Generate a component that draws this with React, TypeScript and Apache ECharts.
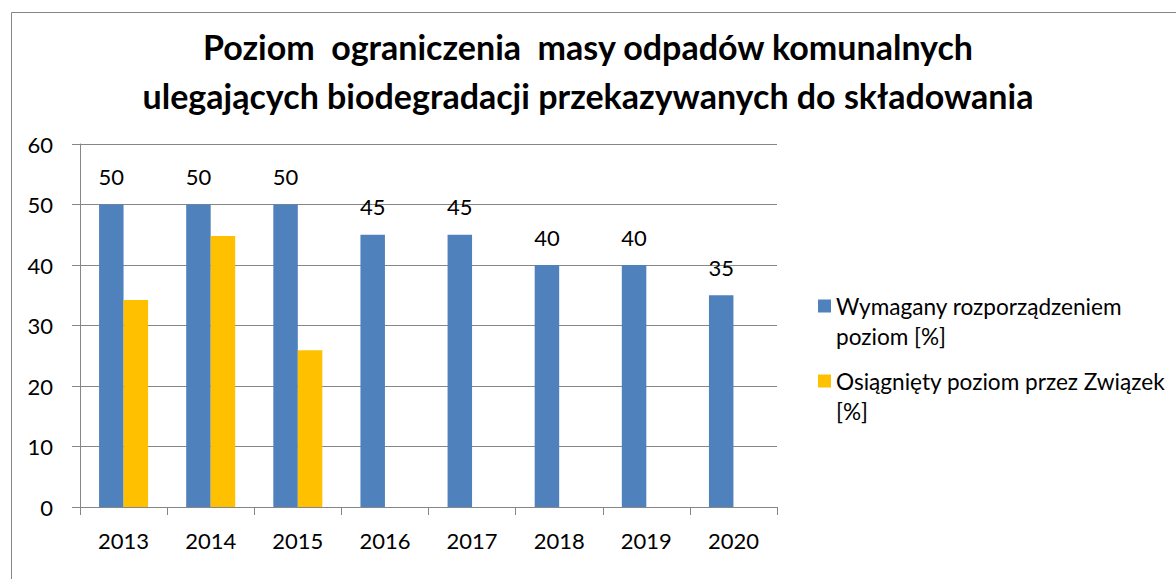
import React, { useEffect, useRef } from "react";
import * as echarts from "echarts";

const titleLines = [
  "Poziom  ograniczenia  masy odpadów komunalnych",
  "ulegających biodegradacji przekazywanych do składowania",
];
const years = ["2013", "2014", "2015", "2016", "2017", "2018", "2019", "2020"];
const requiredLevel = [50, 50, 50, 45, 45, 40, 40, 35];
const achievedLevel: (number | null)[] = [34.2, 44.8, 25.9, null, null, null, null, null];
const seriesNames = ["Wymagany rozporządzeniem poziom [%]", "Osiągnięty poziom przez Związek [%]"];
const legendLabels: Record<string, string> = {
  "Wymagany rozporządzeniem poziom [%]": "Wymagany rozporządzeniem\npoziom [%]",
  "Osiągnięty poziom przez Związek [%]": "Osiągnięty poziom przez Związek\n[%]",
};

const FONT = "Lato, 'Open Sans', sans-serif";
const GRID_COLOR = "#868686";

export default function App() {
  const ref = useRef<HTMLDivElement>(null);
  useEffect(() => {
    if (!ref.current) return;
    const chart = echarts.init(ref.current, undefined, { renderer: "svg" });
    chart.setOption({
      animation: false,
      backgroundColor: "#ffffff",
      textStyle: { fontFamily: FONT },
      title: {
        text: titleLines.join("\n"),
        left: "center",
        top: 22,
        padding: 0,
        textStyle: {
          fontFamily: FONT,
          fontWeight: "bold",
          fontSize: 34,
          lineHeight: 49,
          color: "#000000",
        },
      },
      graphic: [
        {
          type: "rect",
          shape: { x: 11.5, y: 12.5, width: 1400, height: 800 },
          style: { fill: "none", stroke: GRID_COLOR, lineWidth: 1 },
          silent: true,
        },
      ],
      legend: {
        orient: "vertical",
        left: 818,
        top: 261,
        padding: 0,
        itemWidth: 13,
        itemHeight: 13,
        itemGap: -15,
        icon: "rect",
        formatter: (name: string) => "\n" + (legendLabels[name] || name),
        textStyle: {
          fontFamily: FONT,
          fontSize: 22.6,
          lineHeight: 30,
          color: "#000000",
        },
        data: seriesNames,
      },
      grid: { left: 80, top: 144, right: 399, bottom: 72, containLabel: false },
      xAxis: {
        type: "category",
        data: years,
        axisLine: { lineStyle: { color: GRID_COLOR, width: 1 } },
        axisTick: { show: true, length: 8, alignWithLabel: false, lineStyle: { color: GRID_COLOR } },
        axisLabel: { margin: 22, fontSize: 22, color: "#000000", fontFamily: FONT },
        splitLine: { show: false },
      },
      yAxis: {
        type: "value",
        min: 0,
        max: 60,
        interval: 10,
        axisLine: { show: true, lineStyle: { color: GRID_COLOR, width: 1 } },
        axisTick: { show: true, length: 8, lineStyle: { color: GRID_COLOR } },
        axisLabel: { margin: 27, fontSize: 22, color: "#000000", fontFamily: FONT },
        splitLine: { show: true, lineStyle: { color: GRID_COLOR, width: 1 } },
      },
      series: [
        {
          name: seriesNames[0],
          type: "bar",
          data: requiredLevel,
          barWidth: 24.5,
          barGap: "0%",
          itemStyle: { color: "#4F81BD" },
          label: {
            show: true,
            position: "top",
            distance: 17,
            fontSize: 22,
            color: "#000000",
            fontFamily: FONT,
          },
        },
        {
          name: seriesNames[1],
          type: "bar",
          data: achievedLevel,
          barWidth: 24.5,
          barGap: "0%",
          itemStyle: { color: "#FFC000" },
        },
      ],
    });
    return () => chart.dispose();
  }, []);
  return (
    <div
      style={{ position: "fixed", left: 0, top: 0, width: 1176, height: 579, overflow: "hidden", background: "#fff" }}
    >
      <div ref={ref} style={{ width: 1176, height: 579 }} />
    </div>
  );
}
